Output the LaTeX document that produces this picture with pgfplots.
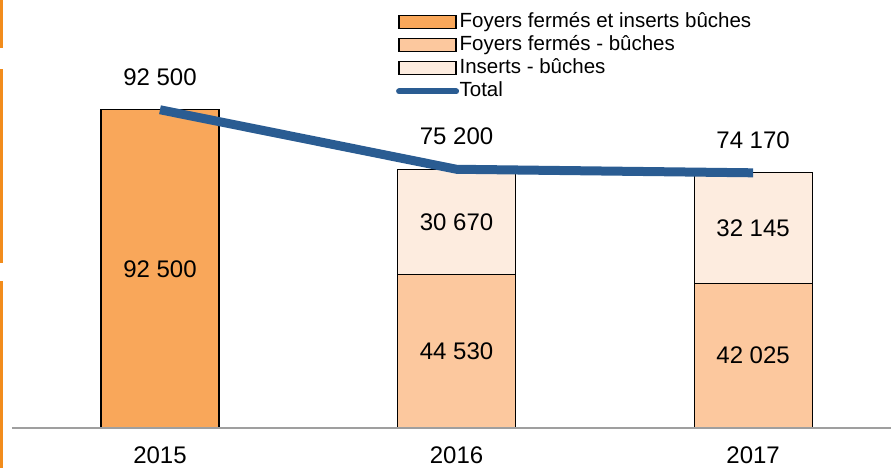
\documentclass[border=0pt]{standalone}
\usepackage{fontspec}
\setmainfont{Liberation Sans}
\usepackage{pgfplots}
\pgfplotsset{compat=1.18}
\definecolor{or1}{HTML}{F9A75A}
\definecolor{or2}{HTML}{FCC89E}
\definecolor{or3}{HTML}{FDECDF}
\definecolor{tot}{HTML}{2A5C92}
\definecolor{edge}{HTML}{F28C1C}
\pgfplotsset{
  boxleg/.style={legend image code/.code={\draw[##1] (0pt,-6.5pt) rectangle (57pt,6.5pt);}},
  lineleg/.style={legend image code/.code={\draw[##1] (0pt,0pt) -- (57pt,0pt);}},
}
\begin{document}
\begin{tikzpicture}
\useasboundingbox (0pt,0pt) rectangle (891pt,468pt);
\fill[edge] (0pt,468pt) rectangle (2.5pt,420pt);
\fill[edge] (0pt,399pt) rectangle (2.5pt,205pt);
\fill[edge] (0pt,187pt) rectangle (2.5pt,0pt);
\begin{axis}[
  at={(12pt,40pt)}, anchor=south west,
  scale only axis, width=879pt, height=428pt,
  xmin=-0.499, xmax=2.465, ymin=0, ymax=124400,
  axis line style={draw=none},
  ytick=\empty, xtick={0,1,2}, xticklabels={2015,2016,2017},
  major tick length=0pt,
  xticklabel style={font=\fontsize{24}{28}\selectfont, anchor=base, yshift=-36pt},
  ybar, bar width=118pt, bar shift=0pt,
  clip=false,
  legend style={at={(0.439,0.975)}, anchor=north west, draw=none, fill=none,
    xshift=-2pt,
    font=\fontsize{20.5}{23}\selectfont, inner sep=0pt, row sep=0pt,
    nodes={inner sep=0.5pt, text height=16pt, text depth=6pt}},
  legend cell align=left,
]
\addplot[fill=or1, draw=black, line width=1.2pt, forget plot] coordinates {(0,92500)};
\addplot[fill=or3, draw=black, line width=1.2pt, forget plot] coordinates {(1,75200) (2,74170)};
\addplot[fill=or2, draw=black, line width=1.2pt, forget plot] coordinates {(1,44530) (2,42025)};
\draw[gray!75, line width=2pt] (axis cs:-0.499,0) -- (axis cs:2.465,0);
\addplot[sharp plot, draw=tot, line width=9pt, no marks, forget plot] coordinates {(0,92500) (1,75200) (2,74170)};

\addlegendimage{fill=or1, draw=black, line width=1.2pt, boxleg}
\addlegendentry{Foyers fermés et inserts bûches}
\addlegendimage{fill=or2, draw=black, line width=1.2pt, boxleg}
\addlegendentry{Foyers fermés - bûches}
\addlegendimage{fill=or3, draw=black, line width=1.2pt, boxleg}
\addlegendentry{Inserts - bûches}
\addlegendimage{draw=tot, line width=6pt, line cap=round, lineleg}
\addlegendentry{Total}

\begin{scope}[every node/.style={font=\fontsize{24}{28}\selectfont}]
\node at (axis cs:0,46250) {92 500};
\node at (axis cs:1,22265) {44 530};
\node at (axis cs:1,59865) {30 670};
\node at (axis cs:2,21012) {42 025};
\node at (axis cs:2,58097) {32 145};
\node[yshift=33pt] at (axis cs:0,92500) {92 500};
\node[yshift=33pt] at (axis cs:1,75200) {75 200};
\node[yshift=33pt] at (axis cs:2,74170) {74 170};
\end{scope}
\end{axis}
\end{tikzpicture}
\end{document}
